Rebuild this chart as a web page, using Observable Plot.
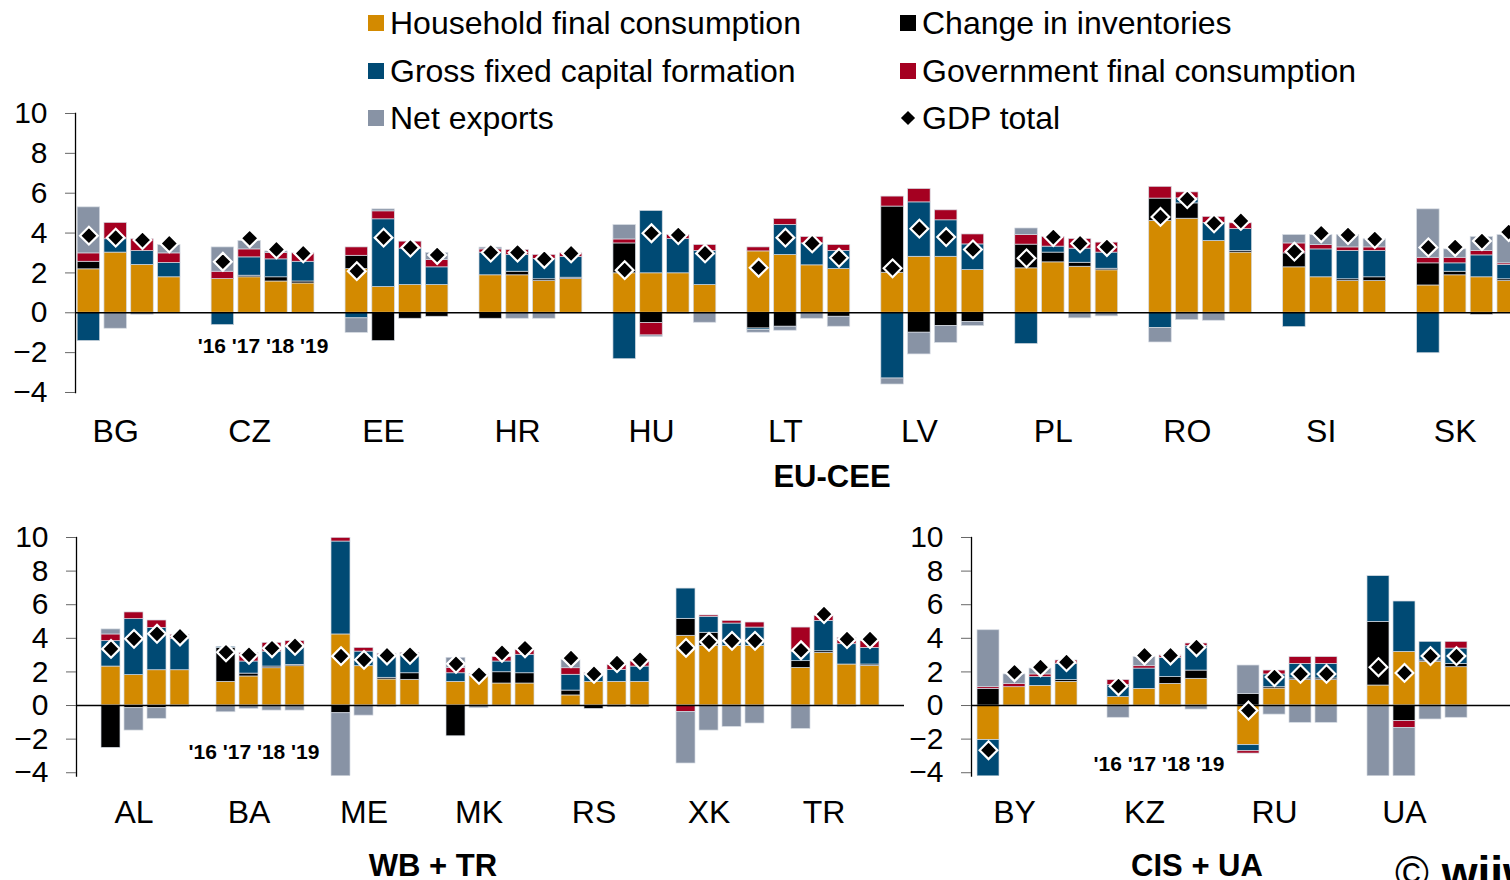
<!DOCTYPE html>
<html><head><meta charset="utf-8">
<script src="https://cdn.jsdelivr.net/npm/d3@7"></script>
<script src="https://cdn.jsdelivr.net/npm/@observablehq/plot@0.6"></script>
<style>
body{margin:0;width:1510px;height:880px;overflow:hidden;position:relative;background:#fff;font-family:"Liberation Sans",Arial,sans-serif;color:#000}
.panel{position:absolute}
.panel svg{max-width:none!important;background:none!important;overflow:visible}
.leg{position:absolute;height:32px;line-height:32px;display:flex;align-items:center;font-size:32px;white-space:nowrap;z-index:2}
.sw{width:16px;height:16px;margin-right:6px;flex:none}
.dia{width:10px;height:10px;background:#000;transform:rotate(45deg);margin:0 9px 0 3px;flex:none}
.title{position:absolute;font-weight:bold;font-size:31px;line-height:31px;transform:translateX(-50%);white-space:nowrap;z-index:2}
.copy{position:absolute;left:1395px;top:850px;font-size:46px;line-height:46px;white-space:nowrap}
</style></head><body>
<div id="top" class="panel" style="left:0;top:0"></div>
<div id="wb" class="panel" style="left:0;top:480px"></div>
<div id="cis" class="panel" style="left:895px;top:480px"></div>
<div id="legend"></div>
<div class="title" style="left:832px;top:461px">EU-CEE</div>
<div class="title" style="left:433px;top:850px">WB + TR</div>
<div class="title" style="left:1197px;top:850px">CIS + UA</div>
<div class="copy"><span>©</span> <b>wiiw</b></div>
<script>
// ---------- data ----------
const components = ["Household final consumption","Change in inventories","Gross fixed capital formation","Government final consumption","Net exports"];
const componentColors = ["#D38A00","#000000","#004A74","#A50021","#8893A5"];
const years = ["2016","2017","2018","2019"];
const yearLabel = "'16 '17 '18 '19";

const euCountries = ["BG","CZ","EE","HR","HU","LT","LV","PL","RO","SI","SK"];
const euHousehold = [2.18,3.02,2.40,1.78, 1.69,1.78,1.57,1.47, 2.19,1.29,1.39,1.39, 1.88,1.88,1.59,1.69, 1.98,1.98,1.98,1.39, 3.08,2.90,2.38,2.19, 2.01,2.81,2.81,2.14, 2.23,2.53,2.31,2.13, 4.61,4.72,3.60,3.02, 2.28,1.78,1.59,1.59, 1.37,1.88,1.78,1.59];
const euInventories = [0.38,0,0,0, 0,0.08,0.21,0.10, 0.67,-1.42,-0.30,-0.20, -0.30,0.18,0.09,0.07, 1.50,-0.52,0,0, -0.79,-0.70,0,-0.20, 3.32,-1.00,-0.67,-0.47, 1.19,0.49,0.20,0.08, 1.12,0.77,0,0.08, 0.70,0,0.09,0.19, 1.11,0.18,-0.10,0.09];
const euGfcf = [-1.42,0.67,0.70,0.72, -0.62,0.92,0.90,0.99, -0.28,3.40,1.83,0.89, 1.14,0.84,1.02,1.04, -2.33,3.13,1.72,1.71, -0.08,1.51,1.10,0.91, -3.30,2.73,1.83,1.29, -1.57,0.30,0.71,0.81, -0.77,0.25,0.91,1.10, -0.72,1.40,1.42,1.32, -2.03,0.42,1.10,0.72];
const euGovernment = [0.42,0.82,0.59,0.48, 0.37,0.40,0.32,0.42, 0.42,0.40,0.35,0.37, 0.16,0.25,0.20,0.18, 0.20,-0.62,0.20,0.30, 0.20,0.30,0.32,0.30, 0.50,0.67,0.50,0.50, 0.49,0.48,0.48,0.50, 0.59,0.30,0.30,0.29, 0.50,0.22,0.18,0.18, 0.28,0.28,0.22,0.08];
const euNetExports = [2.31,-0.80,-0.10,0.42, 1.22,0.42,0.08,0, -0.73,0.10,0,0.35, 0.09,-0.30,-0.30,0, 0.72,-0.08,-0.07,-0.50, -0.13,-0.20,-0.30,-0.50, -0.30,-1.09,-0.84,-0.20, 0.32,0,-0.28,-0.18, -0.72,-0.37,-0.40,0, 0.42,0.50,0.62,0.41, 2.43,0.42,0.70,1.42];
const euGdp = [3.87,3.77,3.65,3.48, 2.56,3.74,3.18,2.98, 2.09,3.77,3.27,2.90, 3.02,3.02,2.70,2.98, 2.14,3.99,3.90,2.98, 2.26,3.77,3.48,2.76, 2.23,4.22,3.80,3.18, 2.73,3.80,3.48,3.30, 4.81,5.70,4.49,4.61, 3.07,3.99,3.90,3.70, 3.28,3.30,3.60,4.05];

const wbCountries = ["AL","BA","ME","MK","RS","XK","TR"];
const wbHousehold = [2.32,1.81,2.10,2.10, 1.41,1.73,2.22,2.34, 4.23,2.34,1.55,1.53, 1.41,1.77,1.31,1.31, 0.60,1.41,1.41,1.41, 4.15,3.55,3.55,3.55, 2.24,3.13,2.44,2.36];
const wbInventories = [-2.52,-0.16,-0.16,-0.08, 2.02,0.17,0.10,0.08, -0.46,0,0.10,0.39, -1.83,0,0.67,0.61, 0.29,-0.20,-0.10,-0.10, 1.01,0.78,0,0, 0.40,0.10,0,0.08];
const wbGfcf = [1.51,3.33,2.52,1.87, 0.06,0.72,0.89,1.09, 5.53,0.87,1.33,1.16, 0.51,0,0.64,1.10, 0.94,0.42,0.71,0.91, 1.80,0.95,1.33,1.09, 0.55,1.81,1.21,0.99];
const wbGovernment = [0.40,0.40,0.44,0.24, 0,0.50,0.52,0.32, 0.22,0.22,0.10,0.05, 0.32,0.11,0.26,0.29, 0.39,0.09,0.30,0.30, -0.38,0.08,0.16,0.30, 1.45,0.30,0.38,0.40];
const wbNetExports = [0.30,-1.33,-0.63,0, -0.40,-0.20,-0.30,-0.30, -6.50,-0.60,-0.10,-0.05, 0.60,-0.16,0,0, 0.50,0,0,0, -3.07,-1.49,-1.27,-1.07, -1.39,0,-0.08,0];
const wbGdp = [3.37,3.97,4.27,4.11, 3.17,3.02,3.41,3.55, 2.94,2.72,2.98,3.02, 2.48,1.83,3.13,3.41, 2.82,1.88,2.52,2.72, 3.43,3.79,3.85,3.85, 3.29,5.44,3.95,3.95];

const cisCountries = ["BY","KZ","RU","UA"];
const cisHousehold = [-2.06,1.09,1.17,1.41, 0.50,0.99,1.29,1.59, -2.36,1.01,1.51,1.51, 1.19,3.19,2.60,2.28];
const cisInventories = [0.99,0,0,0.10, 0,0,0.40,0.49, 0.69,0.08,0.10,0.10, 3.79,-0.93,0.08,0.20];
const cisGfcf = [-4.90,0,0.52,0.97, 0.71,1.21,1.15,1.45, -0.36,0.76,0.87,0.87, 2.72,3.00,1.11,0.91];
const cisGovernment = [0.10,0.20,0.16,0.20, 0.30,0.14,0.14,0.16, -0.14,0.23,0.40,0.40, 0,-0.40,0,0.40];
const cisNetExports = [3.39,0.56,0.35,0, -0.73,0.54,-0.10,-0.24, 1.69,-0.54,-1.03,-1.03, -5.40,-2.95,-0.83,-0.73];
const cisGdp = [-2.66,1.98,2.28,2.58, 1.15,2.98,2.98,3.47, -0.30,1.69,1.88,1.88, 2.28,1.94,2.94,2.94];

const yTicks = [-4,-2,0,2,4,6,8,10];

// ---------- drawing ----------
function panel(o) {
  const keys = [];
  o.countries.forEach(c => {
    if (o.gapFirst) keys.push(c + "|gap");
    years.forEach(y => keys.push(c + "|" + y));
    if (!o.gapFirst) keys.push(c + "|gap");
  });
  if (o.trailingGap) keys.push("end|gap");
  const rows = [];
  components.forEach((comp, ci) => {
    o.countries.forEach((c, i) => years.forEach((y, j) => {
      rows.push({key: c + "|" + y, comp, value: o.series[ci][i * 4 + j]});
    }));
  });
  const gdpRows = [];
  o.countries.forEach((c, i) => years.forEach((y, j) => gdpRows.push({key: c + "|" + y, gdp: o.gdp[i * 4 + j]})));
  const labelKeys = o.countries.map(c => c + "|2017");
  return Plot.plot({
    width: o.marginLeft + o.step * keys.length,
    height: o.height,
    marginLeft: o.marginLeft, marginRight: 0, marginTop: o.marginTop, marginBottom: o.marginBottom,
    style: {fontFamily: "'Liberation Sans', Arial, sans-serif", fontSize: "30px", background: "none", maxWidth: "none", overflow: "visible", color: "#000"},
    x: {type: "band", domain: keys, paddingInner: 0.16, paddingOuter: 0.08, axis: null, label: null},
    y: {domain: o.domainY, axis: null, label: null},
    color: {domain: components, range: componentColors},
    marks: [
      Plot.barY(rows, {x: "key", y: "value", fill: "comp", stroke: "#d5dae2", strokeWidth: 0.7, clip: true}),
      Plot.ruleY([0], {stroke: "black", strokeWidth: 1.6}),
      Plot.frame({anchor: "left", stroke: "black", strokeWidth: 1.3}),
      Plot.axisY({ticks: yTicks, tickSize: 10, tickPadding: 18, stroke: "#666", fontSize: 30, label: null}),
      Plot.axisX({ticks: labelKeys, tickFormat: k => k.split("|")[0], tickSize: 0, tickPadding: o.labelPad, fontSize: 32, label: null}),
      Plot.dot(gdpRows, {x: "key", y: "gdp", symbol: "diamond2", r: 8, fill: "black", stroke: "white", strokeWidth: 2.2}),
      Plot.text([yearLabel], {x: [o.annotCountry + "|2017"], frameAnchor: "bottom", dx: o.annotDx, dy: o.annotDy, fontWeight: "bold", fontSize: 21, lineAnchor: "middle"})
    ]
  });
}

document.getElementById("top").appendChild(panel({
  countries: euCountries,
  series: [euHousehold, euInventories, euGfcf, euGovernment, euNetExports],
  gdp: euGdp, gapFirst: false, trailingGap: false,
  marginLeft: 75, step: 26.79, height: 452, marginTop: 113, marginBottom: 60,
  domainY: [-4, 10], labelPad: 27, annotCountry: "CZ", annotDx: 13.4, annotDy: -46
}));
document.getElementById("wb").appendChild(panel({
  countries: wbCountries,
  series: [wbHousehold, wbInventories, wbGfcf, wbGovernment, wbNetExports],
  gdp: wbGdp, gapFirst: true, trailingGap: true,
  marginLeft: 76, step: 23, height: 356, marginTop: 57, marginBottom: 60.4,
  domainY: [-4.2, 10], labelPad: 24, annotCountry: "BA", annotDx: 5, annotDy: -24
}));
document.getElementById("cis").appendChild(panel({
  countries: cisCountries,
  series: [cisHousehold, cisInventories, cisGfcf, cisGovernment, cisNetExports],
  gdp: cisGdp, gapFirst: false, trailingGap: true,
  marginLeft: 76, step: 26.38, height: 356, marginTop: 57, marginBottom: 60.4,
  domainY: [-4.2, 10], labelPad: 24, annotCountry: "KZ", annotDx: 14.5, annotDy: -12
}));

// legend
const legendItems = [
  {label: components[0], color: componentColors[0], left: 368, top: 7},
  {label: components[2], color: componentColors[2], left: 368, top: 55},
  {label: components[4], color: componentColors[4], left: 368, top: 102},
  {label: "Change in inventories", color: componentColors[1], left: 900, top: 7},
  {label: components[3], color: componentColors[3], left: 900, top: 55},
  {label: "GDP total", color: null, left: 900, top: 102}
];
const leg = document.getElementById("legend");
legendItems.forEach(it => {
  const d = document.createElement("div");
  d.className = "leg";
  d.style.left = it.left + "px";
  d.style.top = it.top + "px";
  const s = document.createElement("span");
  if (it.color) { s.className = "sw"; s.style.background = it.color; }
  else s.className = "dia";
  d.appendChild(s);
  d.appendChild(document.createTextNode(it.label));
  leg.appendChild(d);
});
</script>
</body></html>
